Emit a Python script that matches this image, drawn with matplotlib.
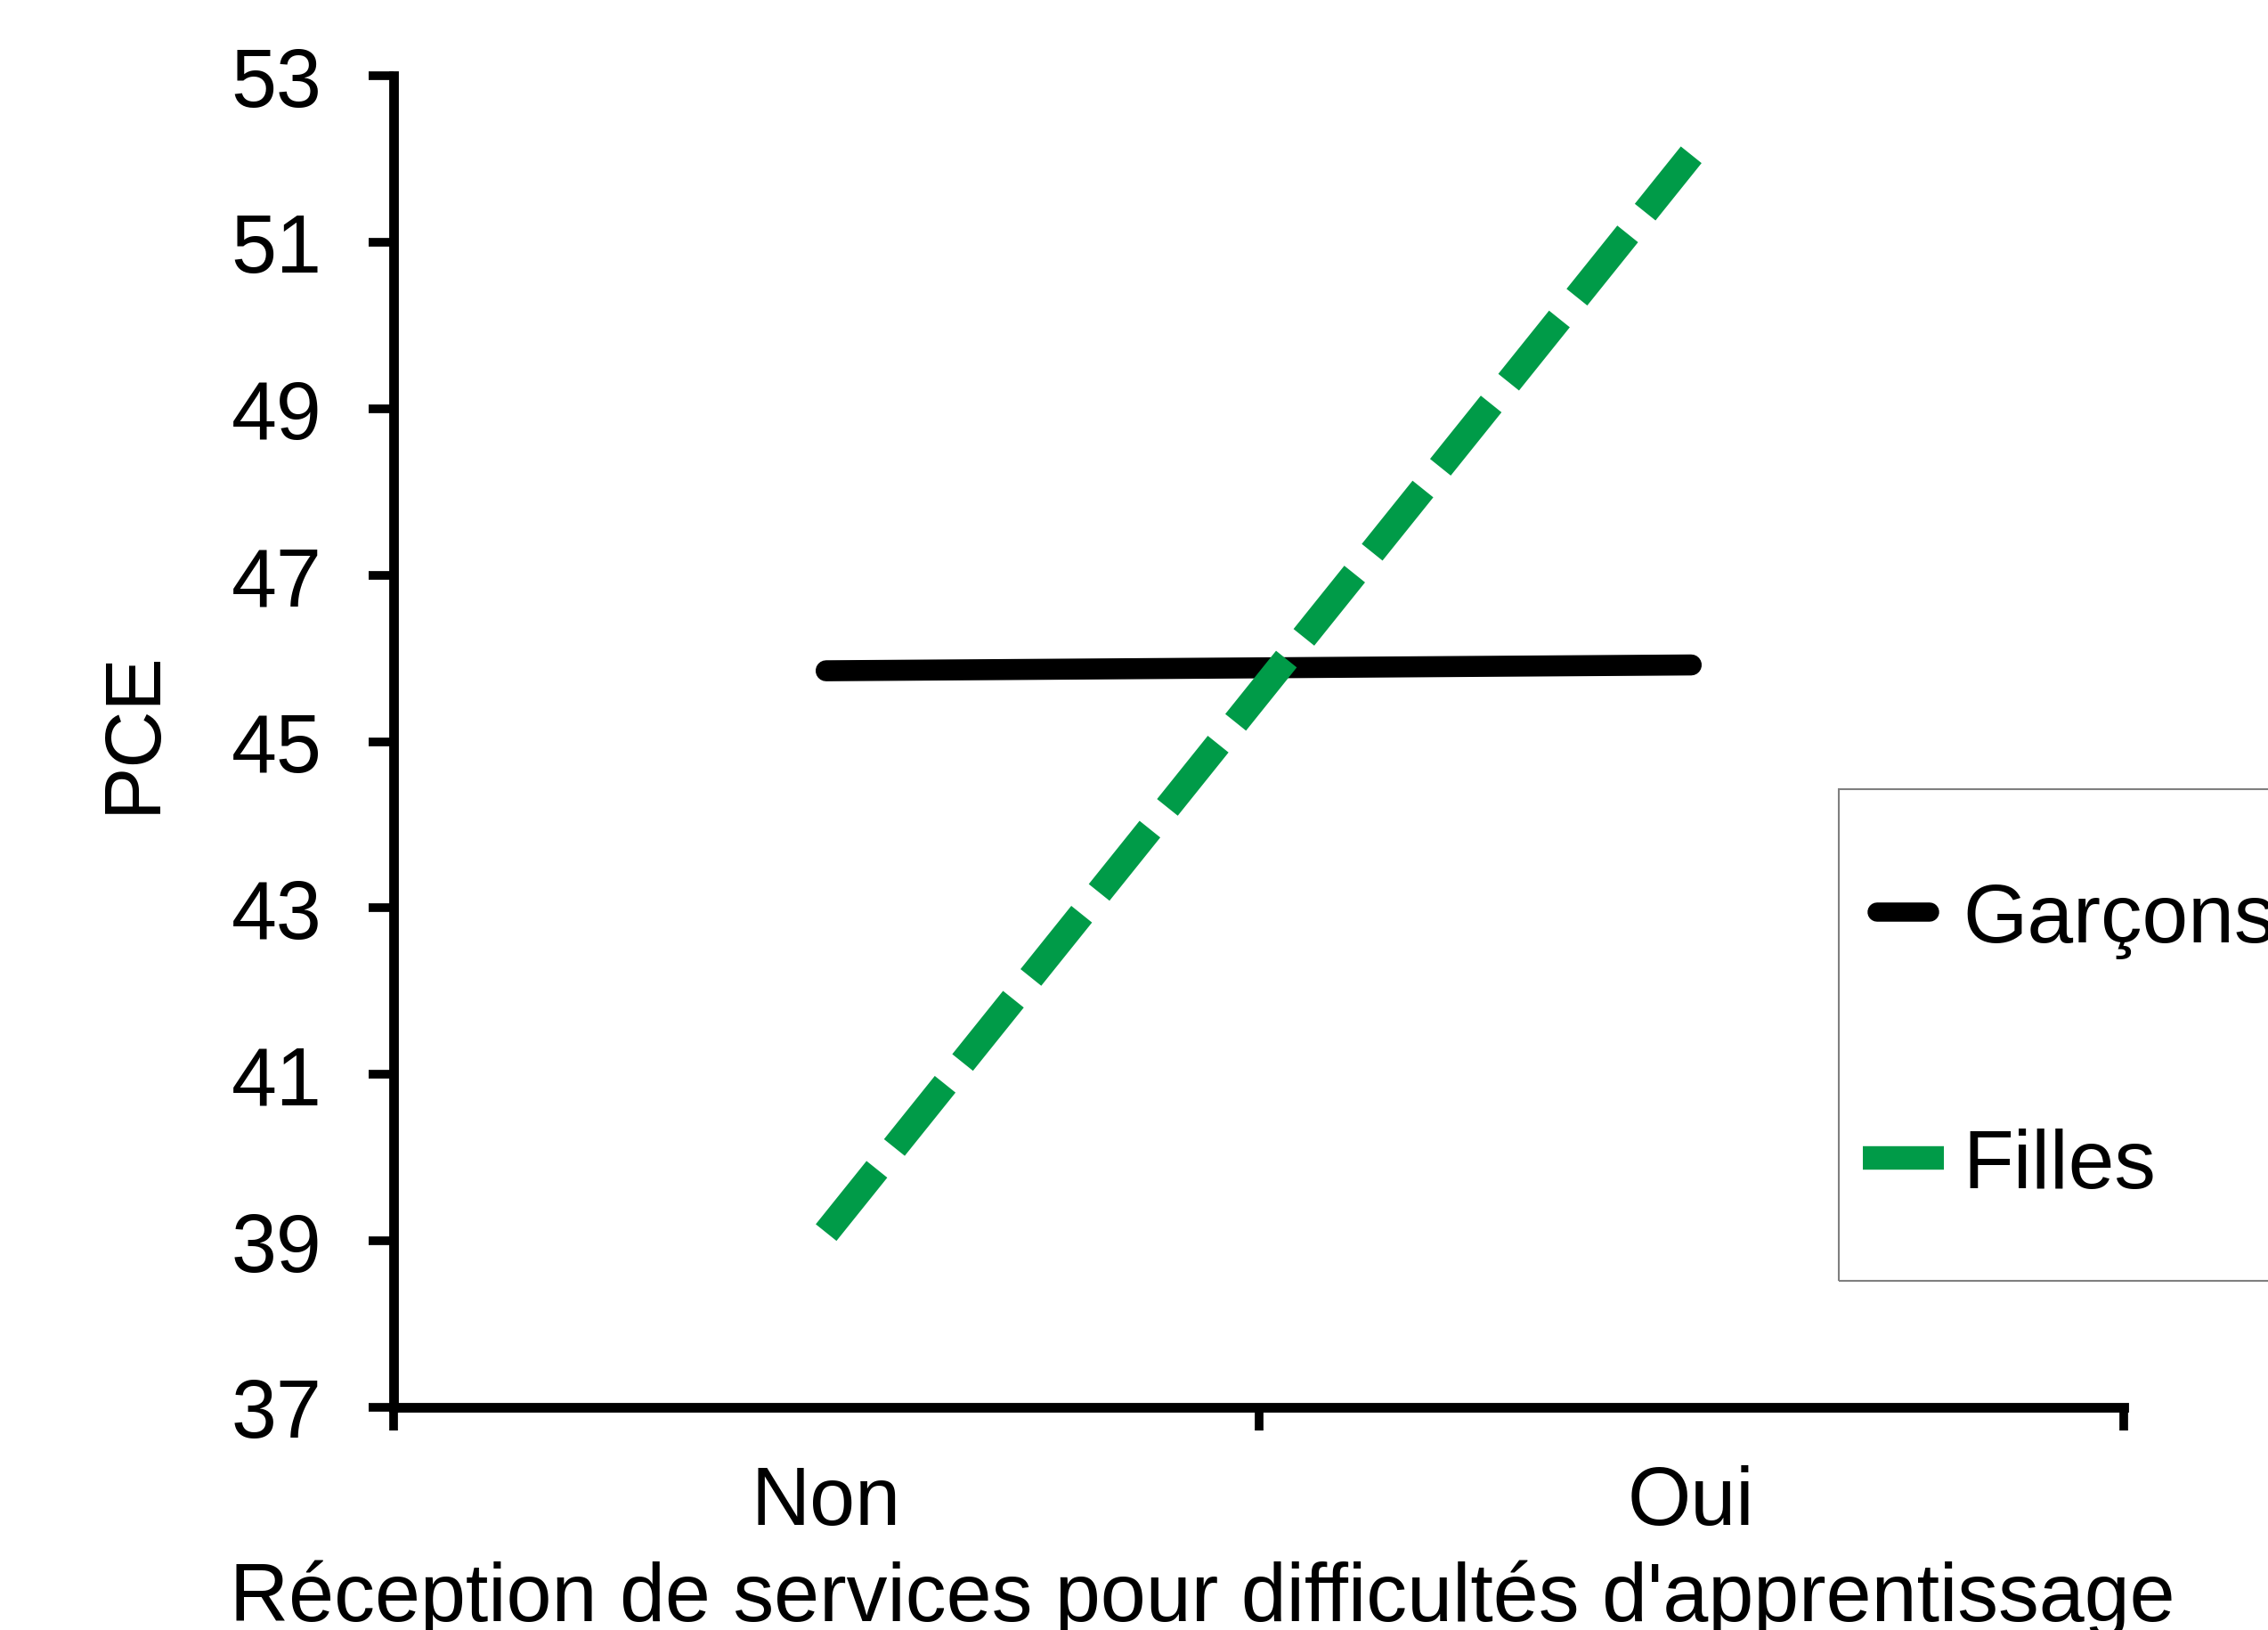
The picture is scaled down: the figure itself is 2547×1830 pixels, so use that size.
import matplotlib
matplotlib.use("Agg")
import matplotlib.pyplot as plt
from matplotlib.lines import Line2D
from matplotlib.patches import Rectangle

plt.rcParams['font.family'] = ['Liberation Sans', 'DejaVu Sans']

# data
categories = ['Non', 'Oui']
garcons = [45.85, 45.92]
filles = [39.1, 52.05]
y_ticks = [37, 39, 41, 43, 45, 47, 49, 51, 53]
series_names = ['Garçons', 'Filles']
green = '#009B48'

W, H = 2547, 1831
fig = plt.figure(figsize=(W / 100, H / 100), dpi=100)
ax = fig.add_axes([442 / W, 1 - 1581 / H, (2385 - 442) / W, (1581 - 86) / H])

x = list(range(len(categories)))
ax.plot(x, garcons, color='black', lw=17, solid_capstyle='round')
ax.plot(x, filles, color=green, lw=21.5, dashes=(3.05, 1.05), dash_capstyle='butt')

ax.set_xlim(-0.5, len(categories) - 0.5)
ax.set_ylim(y_ticks[0], y_ticks[-1])
ax.set_yticks(y_ticks)
ax.set_yticklabels([str(t) for t in y_ticks])

# category separators as major ticks, labels on minor ticks
ax.set_xticks([i - 0.5 for i in range(len(categories) + 1)])
ax.set_xticklabels([])
ax.set_xticks(x, minor=True)
ax.set_xticklabels(categories, minor=True)

for s in ['top', 'right']:
    ax.spines[s].set_visible(False)
for s in ['left', 'bottom']:
    ax.spines[s].set_linewidth(7.8)

ax.tick_params(axis='y', direction='out', length=20, width=7, labelsize=66, pad=38)
ax.tick_params(axis='x', which='major', direction='out', length=19, width=7)
ax.tick_params(axis='x', which='minor', length=0, labelsize=66, pad=46)

ax.set_ylabel('PCE', fontsize=64, va='center')
ax.yaxis.set_label_coords((151 - 442) / 1943, 0.508)
ax.set_xlabel("Réception de services pour difficultés d'apprentissage", fontsize=66, va='baseline')
ax.xaxis.set_label_coords((1350 - 442) / 1943, (1581 - 1820) / 1495)

# legend, partly outside the canvas as in the reference
def fx(px):
    return px / W

def fy(py):
    return 1 - py / H

fig.add_artist(Rectangle((fx(2065), fy(1439)), fx(2700) - fx(2065), fy(887) - fy(1439),
                         transform=fig.transFigure, facecolor='none', edgecolor='#7f7f7f',
                         lw=1.5, clip_on=False))
fig.add_artist(Line2D([fx(2108), fx(2167)], [fy(1025), fy(1025)], transform=fig.transFigure,
                      color='black', lw=15.5, solid_capstyle='round'))
fig.add_artist(Line2D([fx(2092), fx(2183)], [fy(1301), fy(1301)], transform=fig.transFigure,
                      color=green, lw=19, solid_capstyle='butt'))
fig.text(fx(2204), fy(1058), series_names[0], fontsize=67, va='baseline', ha='left')
fig.text(fx(2204), fy(1334), series_names[1], fontsize=67, va='baseline', ha='left')

fig.savefig('out.png', dpi=100)
